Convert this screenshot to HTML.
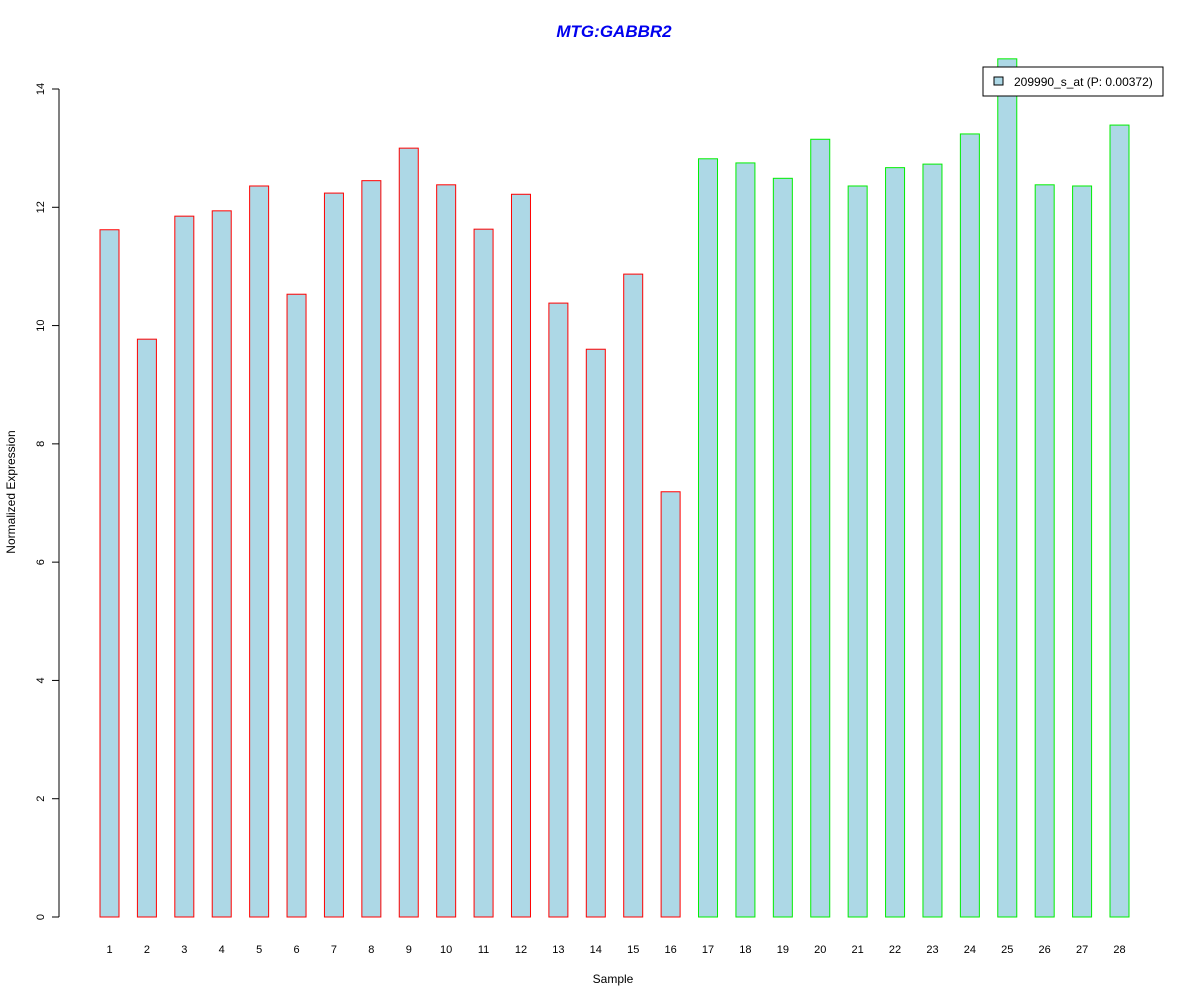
<!DOCTYPE html>
<html><head><meta charset="utf-8"><style>
body{margin:0;background:#fff;}
svg{display:block;font-family:"Liberation Sans",Arial,sans-serif;}
</style></head><body>
<svg id="chart" width="1200" height="1000">
<text x="614" y="37" text-anchor="middle" font-size="17" font-weight="bold" font-style="italic" fill="#0000ee">MTG:GABBR2</text>
<text x="613" y="983" text-anchor="middle" font-size="12">Sample</text>
<text transform="translate(15,492) rotate(-90)" text-anchor="middle" font-size="12">Normalized Expression</text>
<g id="yaxis"></g>
<g id="bars"></g>
<g id="xlabels"></g>
<g>
<rect x="983" y="67" width="180" height="29" fill="#fff" stroke="#000"/>
<rect x="994" y="77" width="9" height="8" fill="#add8e6" stroke="#000"/>
<text x="1014" y="86" font-size="12">209990_s_at (P: 0.00372)</text>
</g>
</svg>
<script>
const categories = [1,2,3,4,5,6,7,8,9,10,11,12,13,14,15,16,17,18,19,20,21,22,23,24,25,26,27,28];
const values = [11.62,9.77,11.85,11.94,12.36,10.53,12.24,12.45,13.0,12.38,11.63,12.22,10.38,9.60,10.87,7.19,12.82,12.75,12.49,13.15,12.36,12.67,12.73,13.24,14.51,12.38,12.36,13.39];
const groups = ["a","a","a","a","a","a","a","a","a","a","a","a","a","a","a","a","b","b","b","b","b","b","b","b","b","b","b","b"];
const yTicks = [0,2,4,6,8,10,12,14];
const NS='http://www.w3.org/2000/svg';
const y = v => 917 - v*(828/14);
const x = i => 109.5 + i*(1010/27);
const bw = 19;
const ya = document.getElementById('yaxis');
function mk(tag, attrs, parent){const e=document.createElementNS(NS,tag);for(const k in attrs)e.setAttribute(k,attrs[k]);parent.appendChild(e);return e;}
const axl = mk('line',{x1:59,x2:59,y1:y(0),y2:y(14),stroke:'#000'},ya);


yTicks.forEach(t=>{
  const l=mk('line',{x1:52,x2:59,y1:y(t),y2:y(t),stroke:'#000'},ya);
  
  
  const tx=mk('text',{transform:`translate(44,${y(t)}) rotate(-90)`,'text-anchor':'middle','font-size':11},ya);
  tx.textContent=t;
  
  
});
const bg=document.getElementById('bars'), xl=document.getElementById('xlabels');
values.forEach((v,i)=>{
  const r=mk('rect',{x:x(i)-bw/2,y:y(v),width:bw,height:y(0)-y(v),fill:'#add8e6',stroke:groups[i]==='a'?'#ff0000':'#00ee00'},bg);
  
  
  const t=mk('text',{x:x(i),y:953,'text-anchor':'middle','font-size':11},xl);
  t.textContent=categories[i];
  
  
});
</script>
</body></html>
